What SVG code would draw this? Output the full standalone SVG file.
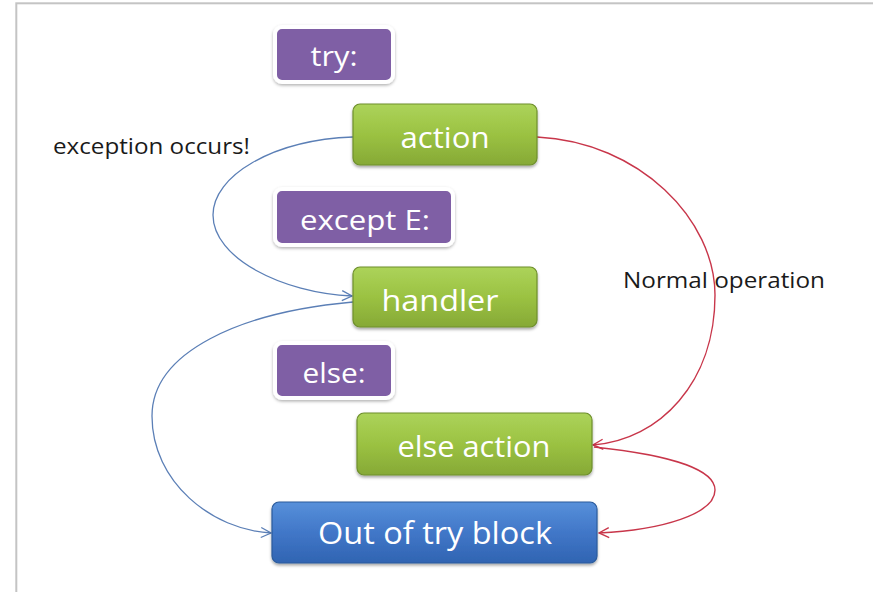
<svg xmlns="http://www.w3.org/2000/svg" width="873" height="592" viewBox="0 0 873 592">
  <defs>
    <style>
      .label-box { font-family: "Open Sans", "Noto Sans", sans-serif; fill: #ffffff; text-anchor: middle; }
      .kw { font-size: 28px; }
      .act { font-size: 30px; }
      .out { font-size: 31px; }
      .note { font-family: "Open Sans", "Noto Sans", sans-serif; font-size: 21px; fill: #1a1a1a; }
      .kw-box { fill: #7f5fa5; stroke: #ffffff; stroke-width: 4; filter: url(#soft); }
      .act-box { fill: url(#green); stroke: #6e8f2c; stroke-width: 1.2; filter: url(#drop); }
      .out-box { fill: url(#blue); stroke: #2b5b9c; stroke-width: 1.2; filter: url(#drop); }
      .flow-blue { fill: none; stroke: #5b7fb6; stroke-width: 1.3; marker-end: url(#head-blue); }
      .flow-red { fill: none; stroke: #c8364a; stroke-width: 1.4; marker-end: url(#head-red); }
    </style>
    <linearGradient id="green" x1="0" y1="0" x2="0" y2="1">
      <stop offset="0" stop-color="#acd35a"/>
      <stop offset="0.5" stop-color="#9bc242"/>
      <stop offset="1" stop-color="#86a936"/>
    </linearGradient>
    <linearGradient id="blue" x1="0" y1="0" x2="0" y2="1">
      <stop offset="0" stop-color="#5790da"/>
      <stop offset="0.5" stop-color="#4177c8"/>
      <stop offset="1" stop-color="#3064b2"/>
    </linearGradient>
    <filter id="drop" x="-10%" y="-20%" width="120%" height="150%">
      <feDropShadow dx="0" dy="2" stdDeviation="1.6" flood-color="#000" flood-opacity="0.35"/>
    </filter>
    <filter id="soft" x="-10%" y="-20%" width="120%" height="150%">
      <feDropShadow dx="0" dy="1.5" stdDeviation="1.5" flood-color="#000" flood-opacity="0.3"/>
    </filter>
    <marker id="head-blue" viewBox="0 0 12 12" refX="11" refY="6" markerWidth="12" markerHeight="12" markerUnits="userSpaceOnUse" orient="auto">
      <path d="M1,1 L11,6 L1,11" fill="none" stroke="#5b7fb6" stroke-width="1.3"/>
    </marker>
    <marker id="head-red" viewBox="0 0 12 12" refX="11" refY="6" markerWidth="12" markerHeight="12" markerUnits="userSpaceOnUse" orient="auto">
      <path d="M1,1 L11,6 L1,11" fill="none" stroke="#c8364a" stroke-width="1.4"/>
    </marker>
  </defs>

  <rect width="873" height="592" fill="#ffffff"/>
  <!-- outer frame -->
  <rect x="16.3" y="3.3" width="900" height="700" fill="none" stroke="#c4c4c4" stroke-width="2"/>

  <!-- connectors -->
  <g id="connectors">
    <path class="flow-blue" d="M353,137 C272,140 213,176 213,215 C213,258 282,293 352,296"/>
    <path class="flow-blue" d="M353,302 C240,312 152,352 152,416 C152,482 212,530 271,533"/>
    <path class="flow-red" d="M537,137 C640,142 715,220 715,295 C715,382 660,440 593,445"/>
    <path class="flow-red" d="M594,447 C680,456 715,472 715,490 C715,514 662,530 599,533"/>
  </g>

  <g id="try">
    <rect class="kw-box" x="275" y="27" width="118" height="55" rx="7"/>
    <text class="label-box kw" x="334" y="66" textLength="47" lengthAdjust="spacingAndGlyphs">try:</text>
  </g>

  <g id="action">
    <rect class="act-box" x="353" y="104" width="184" height="61" rx="7"/>
    <text class="label-box act" x="445" y="148" textLength="89" lengthAdjust="spacingAndGlyphs">action</text>
  </g>

  <g id="except">
    <rect class="kw-box" x="275" y="189" width="178" height="56" rx="7"/>
    <text class="label-box kw" x="365" y="230" textLength="130" lengthAdjust="spacingAndGlyphs">except E:</text>
  </g>

  <g id="handler">
    <rect class="act-box" x="353" y="267" width="184" height="60" rx="7"/>
    <text class="label-box act" x="440" y="311" textLength="117" lengthAdjust="spacingAndGlyphs">handler</text>
  </g>

  <g id="else">
    <rect class="kw-box" x="275" y="343" width="118" height="55" rx="7"/>
    <text class="label-box kw" x="334" y="383" textLength="63" lengthAdjust="spacingAndGlyphs">else:</text>
  </g>

  <g id="else-action">
    <rect class="act-box" x="357" y="413" width="235" height="62" rx="7"/>
    <text class="label-box act" x="474" y="457" textLength="153" lengthAdjust="spacingAndGlyphs">else action</text>
  </g>

  <g id="out-of-try">
    <rect class="out-box" x="272" y="502" width="325" height="61" rx="7"/>
    <text class="label-box out" x="435" y="544" textLength="234" lengthAdjust="spacingAndGlyphs">Out of try block</text>
  </g>

  <g id="labels">
    <text class="note" x="53" y="154" textLength="197" lengthAdjust="spacingAndGlyphs">exception occurs!</text>
    <text class="note" x="623" y="288" textLength="202" lengthAdjust="spacingAndGlyphs">Normal operation</text>
  </g>
</svg>
